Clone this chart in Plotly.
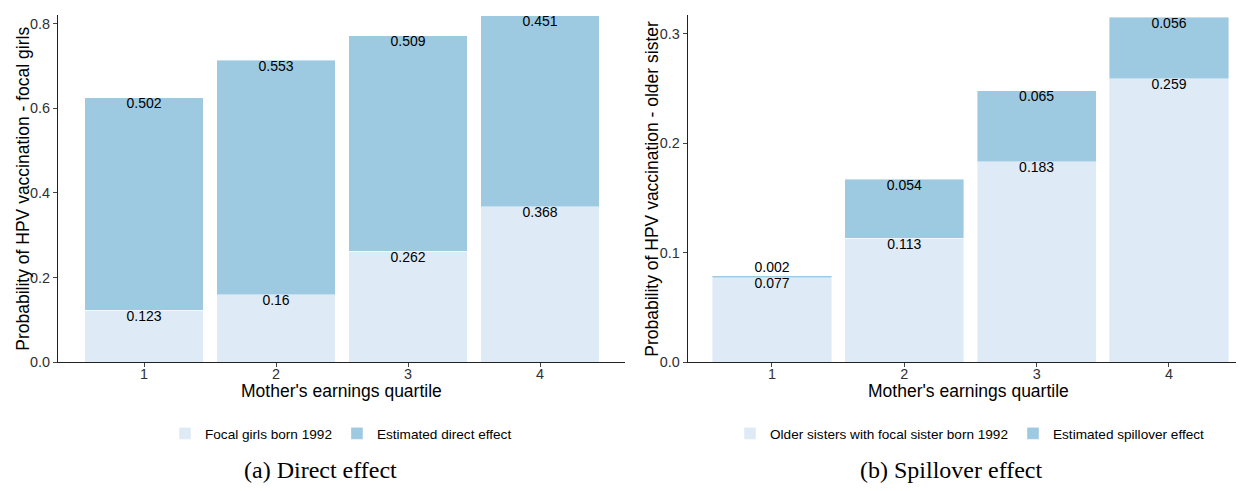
import plotly.graph_objects as go

# ------------------------------------------------------------------ #
#                              DADOS

quartis = [1, 2, 3, 4]
tick_labels = ["1", "2", "3", "4"]

# (a) efeito direto
focal_base = [0.123, 0.16, 0.262, 0.368]
efeito_direto = [0.502, 0.553, 0.509, 0.451]

# (b) efeito spillover
irmas_base = [0.077, 0.113, 0.183, 0.259]
efeito_spillover = [0.002, 0.054, 0.065, 0.056]

cor_clara = "#DEEBF7"
cor_escura = "#9ECAE1"
fonte = "Arial, Liberation Sans, sans-serif"

# a página desloca a figura 8px (margem do body); na vertical a foto sai ~2% achatada
W, H = 1236, 475

def px(xp):
    return (xp - 8) / W

def py(yp):
    return 1 - (yp / 0.98 - 8) / H

# ------------------------------------------------------------------ #
#                              BARRAS

fig = go.Figure()

def painel(base, efeito, nome_base, nome_efeito, xa, ya, leg):
    topo = [b + e for b, e in zip(base, efeito)]
    fig.add_trace(go.Bar(x=quartis, y=base, name=nome_base, marker_color=cor_clara,
                         marker_line=dict(color="rgba(255,255,255,0.5)", width=0.8),
                         width=0.9, xaxis=xa, yaxis=ya, legend=leg, hoverinfo="skip"))
    fig.add_trace(go.Bar(x=quartis, y=efeito, name=nome_efeito, marker_color=cor_escura,
                         marker_line=dict(color="rgba(255,255,255,0.5)", width=0.8),
                         width=0.9, xaxis=xa, yaxis=ya, legend=leg, hoverinfo="skip"))
    # rótulos logo abaixo do topo de cada segmento (segmento muito fino: acima)
    pos_efeito = ["top center" if e < 0.01 else "bottom center" for e in efeito]
    fig.add_trace(go.Scatter(x=quartis, y=base, mode="text", text=[str(v) for v in base],
                             textposition="bottom center", textfont=dict(size=14, color="black", family=fonte),
                             xaxis=xa, yaxis=ya, showlegend=False, hoverinfo="skip"))
    fig.add_trace(go.Scatter(x=quartis, y=topo, mode="text", text=[str(v) for v in efeito],
                             textposition=pos_efeito, textfont=dict(size=14, color="black", family=fonte),
                             xaxis=xa, yaxis=ya, showlegend=False, hoverinfo="skip"))
    return topo

topo_a = painel(focal_base, efeito_direto, "Focal girls born 1992", "Estimated direct effect", "x", "y", "legend")
topo_b = painel(irmas_base, efeito_spillover, "Older sisters with focal sister born 1992",
                "Estimated spillover effect", "x2", "y2", "legend2")

# ------------------------------------------------------------------ #
#                              EIXOS

eixo_x = dict(tickmode="array", tickvals=quartis, ticktext=tick_labels, showline=True,
              linecolor="#222", linewidth=1.1, ticks="outside", ticklen=4, tickcolor="#444",
              tickfont=dict(size=14.4, color="#303030"), showgrid=False, zeroline=False,
              ticklabelstandoff=-6)
eixo_y = dict(showline=True, linecolor="#222", linewidth=1.1, ticks="outside", ticklen=4,
              tickcolor="#444", tickfont=dict(size=14.4, color="#303030"), showgrid=False,
              zeroline=False, tickformat=".1f")

y_dom = [py(361), py(15)]

# títulos dos eixos e legendas das figuras como anotações
titulo = dict(xref="paper", yref="paper", showarrow=False, xanchor="center", yanchor="middle",
              font=dict(size=17.5, color="black", family=fonte))
legenda_fig = dict(xref="paper", yref="paper", showarrow=False, xanchor="center", yanchor="middle",
                   font=dict(family="Liberation Serif, serif", size=24, color="black"))

fig.update_layout(
    barmode="stack",
    width=W, height=H,
    margin=dict(l=0, r=0, t=0, b=0),
    plot_bgcolor="white", paper_bgcolor="white",
    font=dict(family=fonte, color="black"),
    xaxis=dict(eixo_x, domain=[px(58), px(625)], range=[0.348, 4.644], anchor="y"),
    yaxis=dict(eixo_y, domain=y_dom, range=[0, 0.82], dtick=0.2, anchor="x"),
    xaxis2=dict(eixo_x, domain=[px(687.7), 1.0], range=[0.363, 4.567], anchor="y2"),
    yaxis2=dict(eixo_y, domain=y_dom, range=[0, 0.3168], dtick=0.1, anchor="x2"),
    legend=dict(orientation="h", x=px(341), y=py(432), xanchor="center", yanchor="middle",
                font=dict(size=13.6, color="black"), traceorder="normal"),
    legend2=dict(orientation="h", x=px(970), y=py(432), xanchor="center", yanchor="middle",
                 font=dict(size=13.6, color="black"), traceorder="normal"),
    annotations=[
        dict(titulo, text="Mother's earnings quartile", x=px(341), y=py(390)),
        dict(titulo, text="Mother's earnings quartile", x=px(968), y=py(390)),
        dict(titulo, text="Probability of HPV vaccination - focal girls", x=px(23), y=py(188),
             textangle=-90),
        dict(titulo, text="Probability of HPV vaccination - older sister", x=px(652), y=py(188),
             textangle=-90),
        dict(legenda_fig, text="(a) Direct effect", x=px(320), y=py(468)),
        dict(legenda_fig, text="(b) Spillover effect", x=px(951), y=py(468)),
    ],
)

fig.write_html("out.html")
